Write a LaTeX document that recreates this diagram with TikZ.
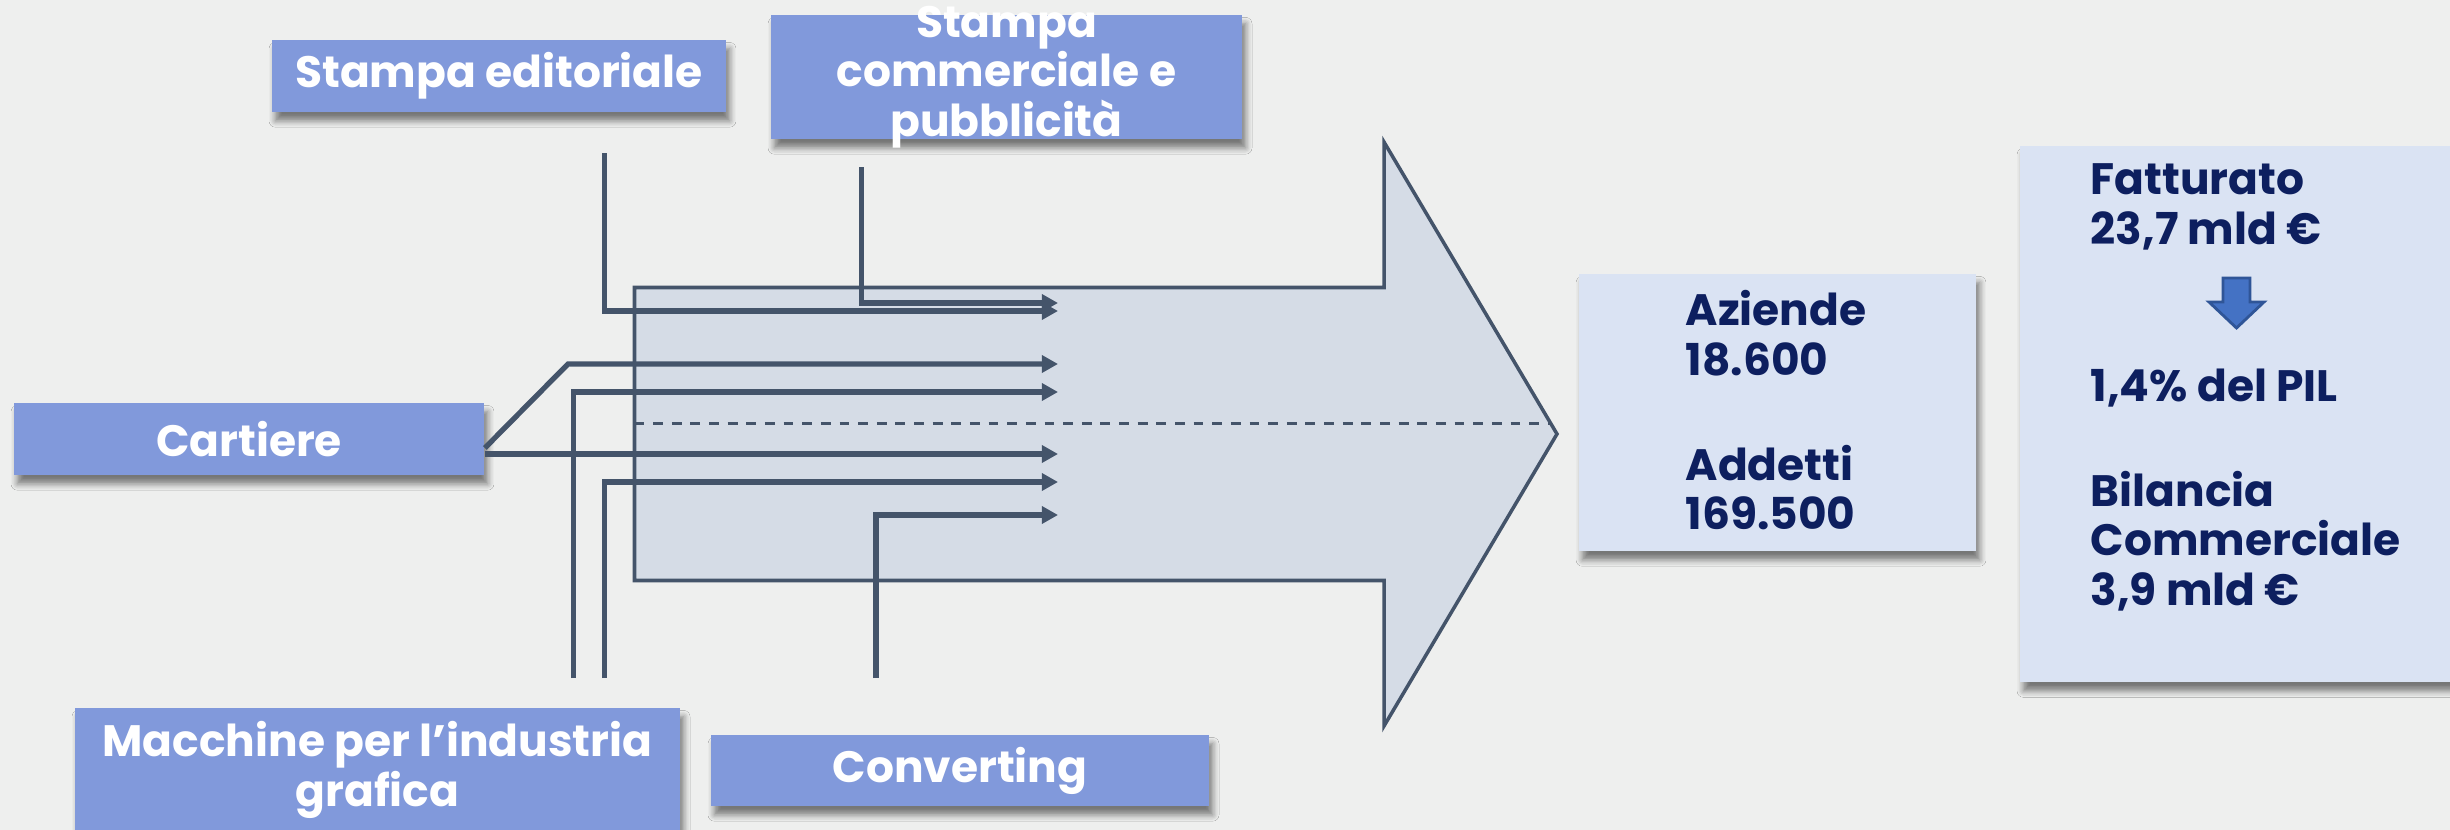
\documentclass[tikz,border=0pt]{standalone}
\usepackage{fontspec}
\setmainfont{Poppins}
\usetikzlibrary{arrows.meta,shadows.blur,calc}
\definecolor{bg}{HTML}{EEEFEE}
\definecolor{lbl}{HTML}{8199DB}
\definecolor{slate}{HTML}{44546A}
\definecolor{bodyc}{HTML}{D5DCE6}
\definecolor{pale}{HTML}{DAE3F3}
\definecolor{navy}{HTML}{0D1F5F}
\definecolor{arrc}{HTML}{4472C4}
\definecolor{arrd}{HTML}{2F5597}
\begin{document}
\begin{tikzpicture}[x=0.01cm,y=-0.01cm,
  shad/.style={blur shadow={shadow xshift=1pt, shadow yshift=-2.5pt, shadow blur radius=1.8pt, shadow blur steps=5, shadow opacity=50}},
  lblbox/.style={fill=lbl, inner sep=0pt, shad},
  lbltext/.style={text=white, font=\fontsize{12.5}{14}\selectfont\bfseries, align=center, inner sep=0pt},
  infobox/.style={fill=pale, inner sep=0pt, shad},
  infotext/.style={text=navy, font=\fontsize{12.5}{14}\selectfont\bfseries, align=left, inner sep=0pt, anchor=west},
  flow/.style={draw=slate, line width=1.5pt, -{Triangle[length=4.6pt,width=4.8pt]}},
]
\useasboundingbox (0,0) rectangle (2450,830);
\fill[bg] (0,0) rectangle (2450,830);
\clip (0,0) rectangle (2450,830);

% big arrow
\filldraw[fill=bodyc, draw=slate, line width=1pt, line join=miter]
  (634.5,287.5) -- (1384,287.5) -- (1384,142) -- (1557,434) -- (1384,726) -- (1384,580.5) -- (634.5,580.5) -- cycle;
\coordinate (dL) at (634.5,423.5);
\coordinate (dR) at (1551,423.5);
\draw[slate, line width=0.7pt, dash pattern=on 2.8pt off 2.5pt] (dL) -- (dR);

% label boxes
\node[lblbox, minimum width=4.54cm, minimum height=0.72cm] (ed) at (499,76) {};
\node[lbltext] (edt) at (ed.center) {Stampa editoriale};
\node[lblbox, minimum width=4.71cm, minimum height=1.24cm] (com) at (1006.5,77) {};
\node[lbltext] (comt) at (com.center) {Stampa\\commerciale e\\pubblicità};
\node[lblbox, minimum width=4.70cm, minimum height=0.72cm] (cart) at (249,439) {};
\node[lbltext] (cartt) at (cart.center) {Cartiere};
\node[lblbox, minimum width=6.05cm, minimum height=1.24cm] (mac) at (377.5,770) {};
\node[lbltext] (mact) at (mac.center) {Macchine per l’industria\\grafica};
\node[lblbox, minimum width=4.98cm, minimum height=0.71cm] (conv) at (960,770.5) {};
\node[lbltext] (convt) at (conv.center) {Converting};

% info boxes
\node[infobox, minimum width=3.97cm, minimum height=2.77cm] (az) at (1777.5,412.5) {};
\node[infotext] (azt) at (1685,410.5) {Aziende\\18.600\\[16pt]Addetti\\169.500};
\node[infobox, minimum width=4.40cm, minimum height=5.36cm] (fat) at (2240,414) {};
\node[infotext] (fa) at (2090,207) {Fatturato\\23,7 mld €};
\node[infotext] (pil) at (2090,388) {1,4\% del PIL};
\node[infotext] (bil) at (2090,541) {Bilancia\\Commerciale\\3,9 mld €};
\filldraw[fill=arrc, draw=arrd, line width=0.8pt]
  (2223,278) -- (2250,278) -- (2250,302) -- (2264,302) -- (2236.5,328) -- (2209,302) -- (2223,302) -- cycle;

% connectors
\coordinate (edS) at (604.6,153);
\coordinate (comS) at (861.7,167);
\coordinate (cb) at (568,364);
\coordinate (macS1) at (573.5,678);
\coordinate (macS2) at (604.6,678);
\coordinate (convS) at (876,678);
\coordinate (t1) at (1058,303);
\coordinate (t2) at (1058,311);
\coordinate (t3) at (1058,364);
\coordinate (t4) at (1058,392);
\coordinate (t5) at (1058,454);
\coordinate (t6) at (1058,482);
\coordinate (t7) at (1058,515);
\draw[flow] (edS) |- (t2);
\draw[flow] (comS) |- (t1);
\draw[flow] ($(cart.east)+(0,9)$) -- (cb) -- (t3);
\draw[flow] ($(cart.east)+(0,15)$) -- (t5);
\draw[flow] (macS1) |- (t4);
\draw[flow] (macS2) |- (t6);
\draw[flow] (convS) |- (t7);
\end{tikzpicture}
\end{document}
